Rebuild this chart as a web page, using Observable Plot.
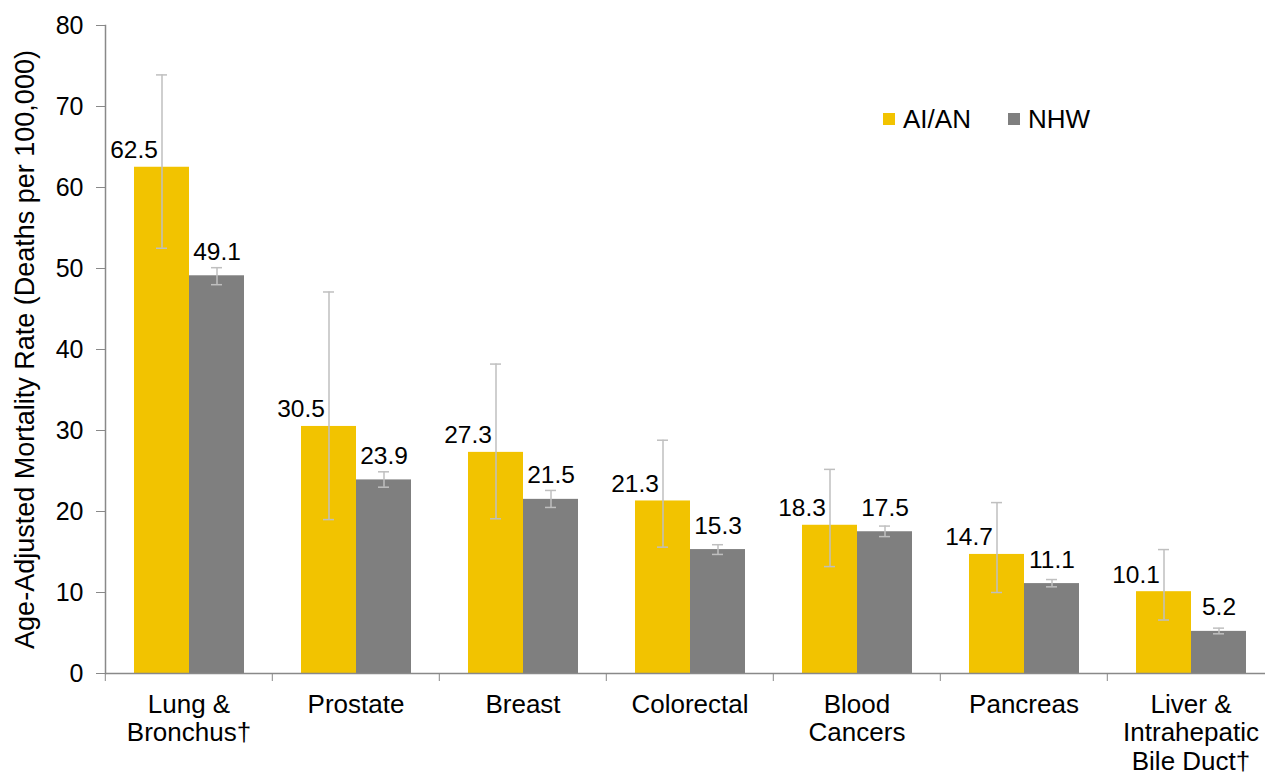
<!DOCTYPE html>
<html><head><meta charset="utf-8">
<script src="https://cdn.jsdelivr.net/npm/d3@7"></script>
<script src="https://cdn.jsdelivr.net/npm/@observablehq/plot@0.6"></script>
<style>
body{margin:0;background:#fff;font-family:"Liberation Sans",Arial,sans-serif;}
#wrap{position:relative;width:1265px;height:779px;overflow:hidden;}
.leg{position:absolute;top:106px;display:flex;align-items:center;font-size:26px;line-height:26px;color:#000}
.sw{width:12px;height:12px;display:inline-block;margin-right:8px}
</style></head><body><div id="wrap"></div>
<script>
const categories = ["Lung & Bronchus†","Prostate","Breast","Colorectal","Blood Cancers","Pancreas","Liver & Intrahepatic Bile Duct†"];
const categoryLabels = ["Lung &\nBronchus†","Prostate","Breast","Colorectal","Blood\nCancers","Pancreas","Liver &\nIntrahepatic\nBile Duct†"];
const series = ["AI/AN","NHW"];
const aianRate  = [62.5,30.5,27.3,21.3,18.3,14.7,10.1];
const aianLower = [52.5,19.0,19.1,15.6,13.2,10.0,6.6];
const aianUpper = [73.9,47.1,38.2,28.8,25.2,21.1,15.3];
const nhwRate   = [49.1,23.9,21.5,15.3,17.5,11.1,5.2];
const nhwLower  = [48.0,23.0,20.5,14.7,16.9,10.7,4.9];
const nhwUpper  = [50.1,24.9,22.6,15.9,18.2,11.6,5.6];
const yTicks = [0,10,20,30,40,50,60,70,80];
const colors = ["#F2C300","#7F7F7F"];
const yLabel = "Age-Adjusted Mortality Rate (Deaths per 100,000)";

const rows = [];
categories.forEach((c,i)=>{
  rows.push({category:c, series:series[0], rate:aianRate[i], lower:aianLower[i], upper:aianUpper[i]});
  rows.push({category:c, series:series[1], rate:nhwRate[i], lower:nhwLower[i], upper:nhwUpper[i]});
});
const fmt = d3.format(".1f");
const axisGray = "#898989";
const errGray = "#BFBFBF";
const font = '"Liberation Sans", Arial, sans-serif';

const chart = Plot.plot({
  width:1265, height:779,
  marginTop:25, marginBottom:106, marginLeft:103, marginRight:-10,
  style:{fontFamily:font, fontSize:"24px", color:"#000", background:"#fff", overflow:"visible"},
  fx:{domain:categories, padding:0, label:null},
  x:{domain:series, paddingInner:0, paddingOuter:0.495, axis:null},
  y:{domain:[0,80], axis:null},
  color:{domain:series, range:colors},
  marks:[
    Plot.axisY({ticks:yTicks, tickSize:9, tickPadding:13, stroke:axisGray, fill:"#000", fontSize:25,
      label:null}),
    Plot.axisY({ticks:[], tickSize:0, fontSize:27, fill:"#000",
      label:yLabel, labelAnchor:"center", labelOffset:91, labelArrow:"none"}),
    Plot.barY(rows,{fx:"category", x:"series", y:"rate", fill:"series"}),
    Plot.ruleX(rows,{fx:"category", x:"series", y1:"lower", y2:"upper", stroke:errGray, strokeWidth:1.5}),
    Plot.tickY(rows,{fx:"category", x:"series", y:"lower", stroke:errGray, strokeWidth:1.5, insetLeft:22, insetRight:22}),
    Plot.tickY(rows,{fx:"category", x:"series", y:"upper", stroke:errGray, strokeWidth:1.5, insetLeft:22, insetRight:22}),
    Plot.text(rows.filter(d=>d.series===series[0]),{fx:"category", x:"series", y:"rate", text:d=>fmt(d.rate),
      lineAnchor:"bottom", dy:-9, dx:-28, fontSize:24.5, fill:"#000"}),
    Plot.text(rows.filter(d=>d.series===series[1]),{fx:"category", x:"series", y:"rate", text:d=>fmt(d.rate),
      lineAnchor:"bottom", dy:-16, fontSize:24.5, fill:"#000"}),
    Plot.ruleY([0],{stroke:axisGray, strokeWidth:1.5}),
    Plot.frame({anchor:"left", facet:"super", stroke:axisGray, strokeWidth:1.5}),
    Plot.axisFx({anchor:"bottom", tickSize:8, tickFormat:()=>"", dx:-83.7, stroke:axisGray, label:null}),
    Plot.text(categories,{fx:categories, text:categoryLabels, frameAnchor:"bottom", lineAnchor:"top",
      dy:19, lineHeight:1.1, fontSize:26, fill:"#000"})
  ]
});
const wrap = document.getElementById("wrap");
wrap.appendChild(chart);
series.forEach((s,i)=>{
  const el = document.createElement("div");
  el.className = "leg";
  el.style.left = (i===0 ? 883 : 1008) + "px";
  el.innerHTML = `<span class="sw" style="background:${colors[i]}"></span><span>${s}</span>`;
  wrap.appendChild(el);
});
</script></body></html>
